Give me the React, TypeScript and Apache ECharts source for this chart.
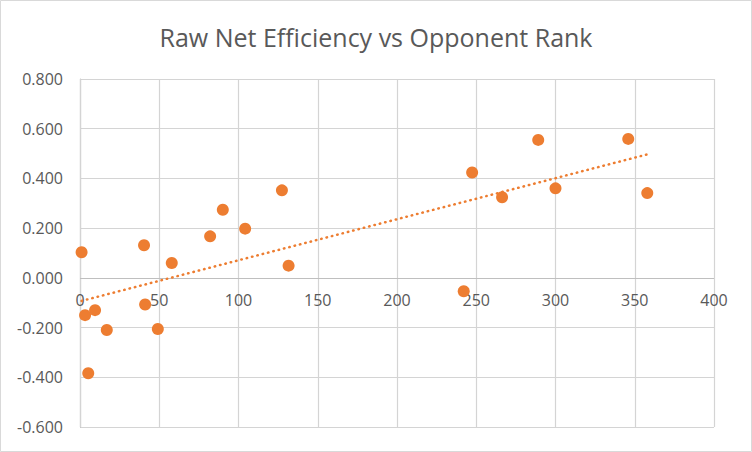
import React, { useEffect, useRef } from "react";
import * as echarts from "echarts";

const opponentRank: number[] = [1, 40.4, 57.9, 3.2, 9.5, 41.1, 16.9, 49.1, 5.2, 82.1, 90.1, 104.2, 127.4, 131.6, 247.4, 266.3, 289.1, 300, 345.9, 357.9, 242.1];
const netEfficiency: number[] = [0.103, 0.131, 0.06, -0.15, -0.13, -0.107, -0.21, -0.206, -0.384, 0.167, 0.274, 0.198, 0.352, 0.049, 0.424, 0.324, 0.555, 0.36, 0.559, 0.341, -0.054];

const titleText = "Raw Net Efficiency vs Opponent Rank";
const xMin = 0, xMax = 400, xStep = 50;
const yMin = -0.6, yMax = 0.8, yStep = 0.2;

function linearFit(xs: number[], ys: number[]) {
  const n = xs.length;
  let sx = 0, sy = 0, sxx = 0, sxy = 0;
  for (let i = 0; i < n; i++) {
    sx += xs[i]; sy += ys[i]; sxx += xs[i] * xs[i]; sxy += xs[i] * ys[i];
  }
  const slope = (n * sxy - sx * sy) / (n * sxx - sx * sx);
  const intercept = (sy - slope * sx) / n;
  return { slope, intercept };
}

const GRID_TOP = 79;
const GRID_BOTTOM = 25;
const CHART_H = 452;

export default function App() {
  const ref = useRef<HTMLDivElement>(null);
  useEffect(() => {
    if (!ref.current) return;
    const chart = echarts.init(ref.current, null, { renderer: "svg" });
    const { slope, intercept } = linearFit(opponentRank, netEfficiency);
    const x0 = Math.min(...opponentRank);
    const x1 = Math.max(...opponentRank);
    const trend = [[x0, intercept + slope * x0], [x1, intercept + slope * x1]];
    const font = "'Open Sans', sans-serif";
    const plotH = CHART_H - GRID_TOP - GRID_BOTTOM;
    const zeroFromBottom = plotH * (0 - yMin) / (yMax - yMin);
    const labelMargin = -(zeroFromBottom - 14);
    chart.setOption({
      animation: false,
      backgroundColor: "#ffffff",
      title: {
        text: titleText,
        left: "center",
        top: 19,
        textStyle: { fontFamily: font, fontSize: 25, fontWeight: "normal", color: "#595959" },
      },
      grid: { left: 80, right: 38, top: GRID_TOP, bottom: GRID_BOTTOM, containLabel: false },
      xAxis: {
        type: "value",
        min: xMin,
        max: xMax,
        interval: xStep,
        axisLine: { show: false, onZero: false },
        axisTick: { show: false },
        axisLabel: { color: "#595959", fontFamily: font, fontSize: 16, margin: labelMargin },
        splitLine: { show: true, lineStyle: { color: "#d4d4d4", width: 1.2 } },
        z: 1,
      },
      yAxis: {
        type: "value",
        min: yMin,
        max: yMax,
        interval: yStep,
        axisLine: { show: true, onZero: false, lineStyle: { color: "#bfbfbf", width: 1.2 } },
        axisTick: { show: false },
        axisLabel: {
          color: "#595959",
          fontFamily: font,
          fontSize: 16,
          margin: 17,
          formatter: (v: number) => v.toFixed(3),
        },
        splitLine: { show: true, lineStyle: { color: "#d4d4d4", width: 1.2 } },
      },
      graphic: [
        {
          type: "rect",
          shape: { x: 0.5, y: 0.5, width: 751, height: 451 },
          style: { fill: "none", stroke: "#d9d9d9", lineWidth: 1 },
          silent: true,
          z: 100,
        },
      ],
      series: [
        {
          type: "scatter",
          data: opponentRank.map((x, i) => [x, netEfficiency[i]]),
          symbol: "circle",
          symbolSize: 12,
          itemStyle: { color: "#ED7D31", opacity: 1 },
          z: 3,
          markLine: {
            silent: true,
            symbol: "none",
            label: { show: false },
            lineStyle: { color: "#bfbfbf", width: 1.2, type: "solid" },
            data: [{ yAxis: 0 }],
            z: 1,
          },
        },
        {
          type: "line",
          data: trend,
          symbol: "none",
          lineStyle: { color: "#ED7D31", width: 2.5, type: [0.5, 5], cap: "round" },
          z: 4,
        },
      ],
    });
    return () => chart.dispose();
  }, []);
  return (
    <div
      ref={ref}
      style={{ position: "absolute", left: 0, top: 0, width: 752, height: 452 }}
    />
  );
}
